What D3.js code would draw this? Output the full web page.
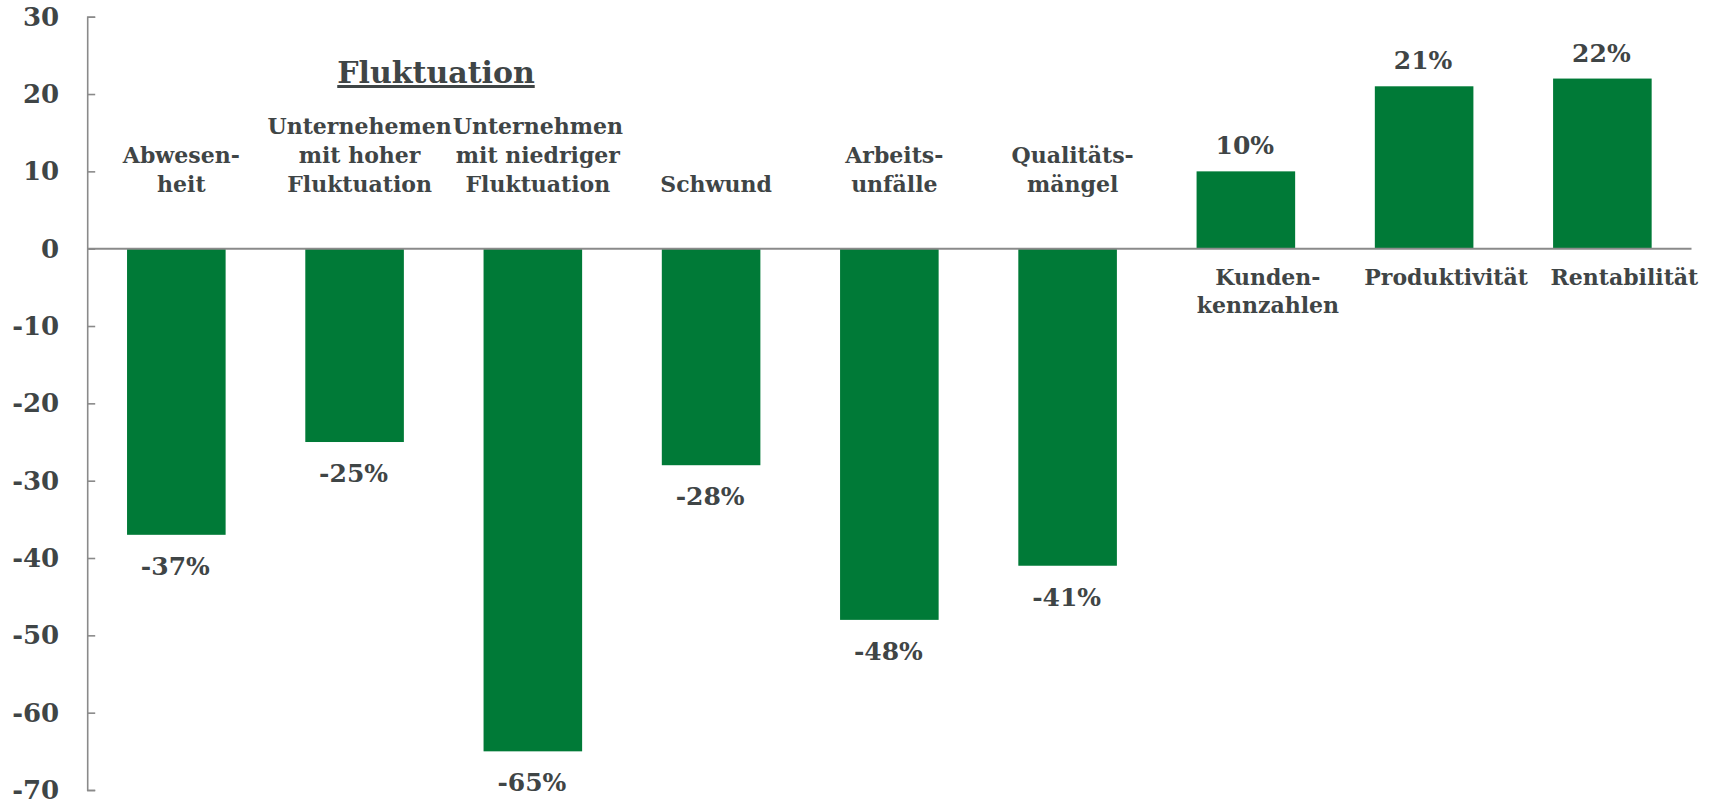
<!DOCTYPE html>
<html>
<head>
<meta charset="utf-8">
<script src="https://cdn.jsdelivr.net/npm/d3@7"></script>
<style>
  html, body { margin: 0; padding: 0; background: #ffffff; }
  svg { display: block; }
  text { font-family: "DejaVu Serif", "Liberation Serif", serif; font-weight: bold; fill: #3f4546; }
</style>
</head>
<body>
<script>
// ---- data ----
const categories = [
  "Abwesen-\nheit",
  "Unternehemen\nmit hoher\nFluktuation",
  "Unternehmen\nmit niedriger\nFluktuation",
  "Schwund",
  "Arbeits-\nunfälle",
  "Qualitäts-\nmängel",
  "Kunden-\nkennzahlen",
  "Produktivität",
  "Rentabilität"
];
const values = [-37, -25, -65, -28, -48, -41, 10, 21, 22];
const valueLabels = ["-37%", "-25%", "-65%", "-28%", "-48%", "-41%", "10%", "21%", "22%"];
const yTicks = [30, 20, 10, 0, -10, -20, -30, -40, -50, -60, -70];
const titleText = "Fluktuation";

// ---- layout ----
const W = 1713, H = 804;
const barColor = "#007a37";
const axisColor = "#8a8a8a";

const svg = d3.select("body").append("svg").attr("width", W).attr("height", H);

const x = d3.scaleBand()
  .domain(d3.range(categories.length))
  .range([87.2, 1691.5])
  .paddingInner(0.447)
  .paddingOuter(0.2235);

const y = d3.scaleLinear().domain([-70, 30]).range([790, 16.7]);

// bars
svg.append("g").selectAll("rect")
  .data(values)
  .join("rect")
  .attr("x", (d, i) => x(i))
  .attr("width", x.bandwidth())
  .attr("y", d => y(Math.max(0, d)))
  .attr("height", d => Math.abs(y(d) - y(0)))
  .attr("fill", barColor);

// y axis
const yAxis = d3.axisLeft(y)
  .tickValues(yTicks)
  .tickFormat(d => String(d))
  .tickSizeInner(-8)
  .tickSizeOuter(-8)
  .tickPadding(28);

const gAxis = svg.append("g")
  .attr("transform", `translate(${x.range()[0]},0)`)
  .call(yAxis);
gAxis.select(".domain").attr("stroke", axisColor).attr("stroke-width", 1.6);
gAxis.selectAll(".tick line").attr("stroke", axisColor).attr("stroke-width", 1.6);
gAxis.selectAll(".tick text")
  .attr("font-size", 26)
  .attr("font-family", "DejaVu Serif, serif")
  .attr("font-weight", "bold")
  .attr("fill", "#3f4546")
  .attr("dy", "0.33em");

// zero line
svg.append("line")
  .attr("x1", x.range()[0]).attr("x2", x.range()[1])
  .attr("y1", y(0)).attr("y2", y(0))
  .attr("stroke", axisColor).attr("stroke-width", 2);

// value labels
svg.append("g").selectAll("text")
  .data(values)
  .join("text")
  .attr("x", (d, i) => x(i) + x.bandwidth() / 2 - 1)
  .attr("y", d => d < 0 ? y(d) + 40 : y(d) - 17)
  .attr("text-anchor", "middle")
  .attr("font-size", 25)
  .text((d, i) => valueLabels[i]);

// category labels
const lineH = 28.8;
const catG = svg.append("g");
categories.forEach((c, i) => {
  const lines = c.split("\n");
  const neg = values[i] < 0;
  const cx = x(i) + x.bandwidth() / 2 + (neg ? 5 : 22);
  const firstBase = neg ? (y(0) - 57 - (lines.length - 1) * lineH) : (y(0) + 36);
  const t = catG.append("text")
    .attr("text-anchor", "middle")
    .attr("font-size", 22)
    .attr("x", cx)
    .attr("y", firstBase);
  lines.forEach((l, j) => {
    t.append("tspan")
      .attr("x", cx)
      .attr("dy", j === 0 ? 0 : lineH)
      .text(l);
  });
});

// title
svg.append("text")
  .attr("x", 436)
  .attr("y", 83)
  .attr("text-anchor", "middle")
  .attr("font-size", 30)
  .attr("text-decoration", "underline")
  .text(titleText);
</script>
</body>
</html>
